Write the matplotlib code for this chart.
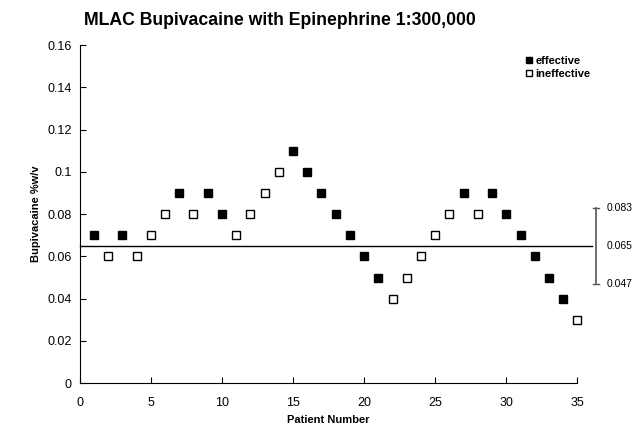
import numpy as np
import matplotlib.pyplot as plt

plt.rcParams['font.family'] = ['Liberation Sans', 'DejaVu Sans']

# patient sequence (up-down allocation)
patients = list(range(1, 36))
conc = [0.07, 0.06, 0.07, 0.06, 0.07, 0.08, 0.09, 0.08, 0.09, 0.08,
        0.07, 0.08, 0.09, 0.10, 0.11, 0.10, 0.09, 0.08, 0.07, 0.06,
        0.05, 0.04, 0.05, 0.06, 0.07, 0.08, 0.09, 0.08, 0.09, 0.08,
        0.07, 0.06, 0.05, 0.04, 0.03]
effective = [1, 0, 1, 0, 0, 0, 1, 0, 1, 1,
             0, 0, 0, 0, 1, 1, 1, 1, 1, 1,
             1, 0, 0, 0, 0, 0, 1, 0, 1, 1,
             1, 1, 1, 1, 0]

mlac = 0.065
ci_low, ci_high = 0.047, 0.083

patients = np.array(patients)
conc = np.array(conc)
effective = np.array(effective, dtype=bool)

fig = plt.figure(figsize=(6.38, 4.30), dpi=100)
ax = fig.add_axes([0.125, 0.109, 0.780, 0.786])

ax.plot(patients[effective], conc[effective], 's', color='black', ms=5.3,
        label='effective', linestyle='none', clip_on=False)
ax.plot(patients[~effective], conc[~effective], 's', mfc='white', mec='black',
        mew=1.0, ms=5.3, label='ineffective', linestyle='none', clip_on=False)

# MLAC line and 95% CI bar on the right
ax.plot([0, 36.0], [mlac, mlac], color='black', lw=1.0, clip_on=False)
xb = 36.3
ax.plot([xb, xb], [ci_low, ci_high], color='#555555', lw=1.2, clip_on=False)
for yv in (ci_low, ci_high):
    ax.plot([xb - 0.22, xb + 0.22], [yv, yv], color='#555555', lw=1.0, clip_on=False)
for yv in (ci_high, mlac, ci_low):
    ax.text(xb + 0.75, yv, f'{yv:.3f}', fontsize=7.5, va='center', ha='left')

ax.set_xlim(0, 35)
ax.set_ylim(0, 0.16)
ax.set_xticks(range(0, 36, 5))
ax.set_yticks(np.arange(0, 0.161, 0.02))
ax.set_yticklabels(['0', '0.02', '0.04', '0.06', '0.08', '0.1', '0.12', '0.14', '0.16'])
ax.tick_params(direction='in', labelsize=9, length=4)
ax.tick_params(axis='x', pad=10)
ax.tick_params(axis='y', pad=6)

ax.spines['top'].set_visible(False)
ax.spines['right'].set_visible(False)

ax.set_xlabel('Patient Number', fontsize=8, fontweight='bold', labelpad=4)
ax.set_ylabel('Bupivacaine %w/v', fontsize=8, fontweight='bold')
fig.text(0.439, 0.953, 'MLAC Bupivacaine with Epinephrine 1:300,000',
         fontsize=12.7, fontweight='bold', ha='center', va='center')

ax.legend(loc='upper right', frameon=False, handletextpad=0.05,
          markerscale=0.9, borderaxespad=0.0, labelspacing=0.2,
          handlelength=1.0, prop={'weight': 'bold', 'size': 8},
          bbox_to_anchor=(1.035, 0.98))

fig.savefig('out.png', dpi=100)
